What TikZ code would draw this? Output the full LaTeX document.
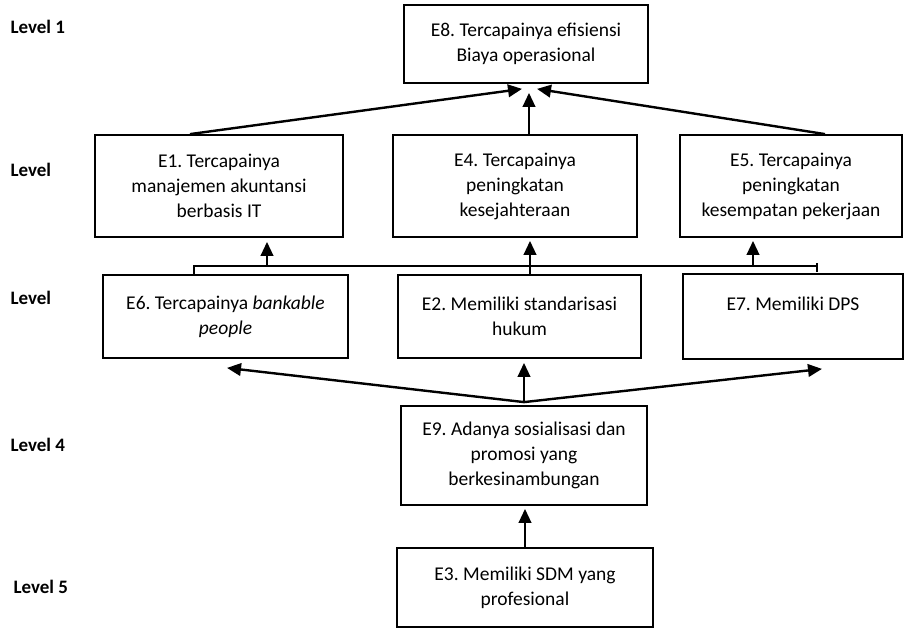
\documentclass[tikz,border=0pt]{standalone}
\usepackage{fontspec}
\setmainfont{Carlito}
\usetikzlibrary{arrows.meta}
\frenchspacing

\begin{document}
\begin{tikzpicture}[x=1pt, y=-1pt,
                    goal/.style={rectangle, draw=black, line width=1.8pt, align=center, inner sep=0pt,
                                 font=\fontsize{19.5}{25}\selectfont},
                    lvl/.style={anchor=west, font=\fontsize{19}{22}\selectfont\bfseries},
                    link/.style={-{Triangle[length=14pt,width=12.5pt]}, line width=2.4pt},
                    bus/.style={line width=1.6pt}]
    \useasboundingbox (0,0) rectangle (904,628);

    % Level 1
    \node[lvl] (lv1) at (7,27) {Level 1};
    \node[goal, minimum width=244pt, minimum height=78pt] (e8) at (526,44) {E8. Tercapainya efisiensi\\Biaya operasional};

    % Level 2
    \node[lvl] (lv2) at (7,170) {Level};
    \node[goal, minimum width=248pt, minimum height=102pt] (e1) at (219,186) {E1. Tercapainya\\manajemen akuntansi\\berbasis IT};
    \node[goal, minimum width=244pt, minimum height=102pt] (e4) at (515,186) {E4. Tercapainya\\peningkatan\\kesejahteraan};
    \node[goal, minimum width=222pt, minimum height=102pt] (e5) at (791,186) {E5. Tercapainya\\peningkatan\\kesempatan pekerjaan};

    % Level 3
    \node[lvl] (lv3) at (7,298) {Level};
    \node[goal, minimum width=245pt, minimum height=83pt] (e6) at (225.5,316.5) {E6. Tercapainya \textit{bankable}\\\textit{people}};
    \node[goal, minimum width=243pt, minimum height=83pt] (e2) at (519.5,316.5) {E2. Memiliki standarisasi\\hukum};
    \node[goal, minimum width=220pt, minimum height=85pt] (e7) at (793,316.5) {E7. Memiliki DPS\\~};

    % Level 4
    \node[lvl] (lv4) at (7,445) {Level 4};
    \node[goal, minimum width=246pt, minimum height=99pt] (e9) at (524,455.5) {E9. Adanya sosialisasi dan\\promosi yang\\berkesinambungan};

    % Level 5
    \node[lvl] (lv5) at (10,587) {Level 5};
    \node[goal, minimum width=256pt, minimum height=79pt] (e3) at (525,587.5) {E3. Memiliki SDM yang\\profesional};

    % Level 2 -> Level 1
    \draw[link] ([xshift=-29pt]e1.north) -- ([xshift=-4pt,yshift=-5pt]e8.south);
    \draw[link] ([xshift=14pt]e4.north) -- ([xshift=3pt,yshift=-9pt]e8.south);
    \draw[link] ([xshift=34pt]e5.north) -- ([xshift=11pt,yshift=-5pt]e8.south);

    % Level 3 -> Level 2
    \coordinate (busR) at (817,266);
    \coordinate (up1) at (267,266);
    \coordinate (up4) at (530,266);
    \coordinate (up5) at (753,266);
    \draw[bus] ([xshift=-31.5pt]e6.north) |- (busR);
    \draw[bus] ([yshift=3pt]busR) -- ([yshift=-6pt]busR);
    \draw[bus] ([xshift=10.5pt]e2.north) -- (up4);
    \draw[link, shorten >=4pt] (up1) -- (up1 |- e1.south);
    \draw[link, shorten >=3pt] (up4) -- (up4 |- e4.south);
    \draw[link, shorten >=3pt] (up5) -- (up5 |- e5.south);

    % Level 4 -> Level 3
    \coordinate (fork) at ([yshift=3pt]e9.north);
    \draw[link] (fork) -- ([xshift=1.5pt,yshift=-9pt]e6.south);
    \draw[link, shorten >=4pt] (fork) -- (fork |- e2.south);
    \draw[link] (fork) -- ([xshift=29pt,yshift=-9pt]e7.south);

    % Level 5 -> Level 4
    \draw[link, shorten >=3pt] (e3.north) -- (e3.north |- e9.south);
\end{tikzpicture}
\end{document}
